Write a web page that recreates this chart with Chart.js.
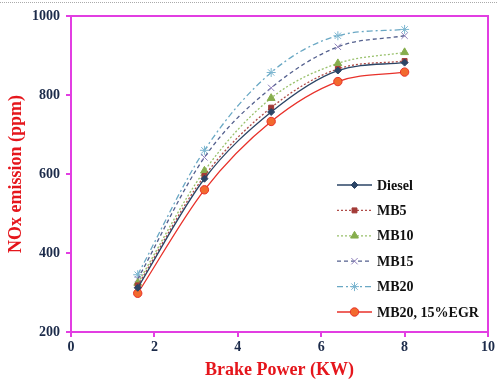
<!DOCTYPE html>
<html>
<head>
<meta charset="utf-8">
<script src="https://cdn.jsdelivr.net/npm/chart.js@4/dist/chart.umd.min.js"></script>
<style>
  html, body { margin: 0; padding: 0; background: #fff; }
  #wrap { position: relative; width: 497px; height: 381px; }
  #dots { position: absolute; left: 0; top: 2px; width: 497px; border-top: 1px dotted #aaa; }
</style>
</head>
<body>
<div id="wrap">
  <div id="dots"></div>
  <canvas id="chart"></canvas>
</div>
<script>
// Brake power (KW) load points
const brakePower = [1.6, 3.2, 4.8, 6.4, 8.0];

// NOx emission (ppm) per fuel
const diesel = [312, 588, 757, 862, 882];
const mb5    = [318, 595, 768, 866, 886];
const mb10   = [324, 608, 792, 880, 908];
const mb15   = [334, 642, 818, 922, 950];
const mb20   = [345, 660, 857, 950, 966];
const mb20Egr = [298, 560, 733, 834, 858];

const xTicks = [0, 2, 4, 6, 8, 10];
const yTicks = [200, 400, 600, 800, 1000];

const MAGENTA = '#e23ee2';
const SERIF = "'Liberation Serif', 'Times New Roman', serif";

const pts = (arr) => arr.map((v, i) => ({ x: brakePower[i], y: v }));

const series = [
  { label: 'Diesel', data: diesel, color: '#2b4566', dash: [], style: 'rectRot', fill: '#2b4566', radius: 3.5 },
  { label: 'MB5', data: mb5, color: '#b04c48', dash: [2, 2], style: 'rect', fill: '#a33b38', radius: 3.5 },
  { label: 'MB10', data: mb10, color: '#98c06a', dash: [2, 2], style: 'triangle', fill: '#86ad4c', radius: 4.5 },
  { label: 'MB15', data: mb15, color: '#54608e', dash: [4, 3], style: 'crossRot', fill: '#8f80bb', radius: 4.5 },
  { label: 'MB20', data: mb20, color: '#6aa8c4', dash: [6, 3, 2, 3], style: 'star', fill: '#7cb6d0', radius: 4.5 },
  { label: 'MB20, 15%EGR', data: mb20Egr, color: '#e8312a', dash: [], style: 'circle', fill: '#f26a2e', radius: 4.2 }
];

const frameAndLegend = {
  id: 'frameAndLegend',
  afterDatasetsDraw(chart) {
    const { ctx, chartArea: a } = chart;
    ctx.save();
    ctx.strokeStyle = MAGENTA;
    ctx.lineWidth = 2;
    ctx.beginPath();
    ctx.moveTo(a.left, a.top);
    ctx.lineTo(a.right, a.top);
    ctx.lineTo(a.right, a.bottom);
    ctx.stroke();

    // legend, bottom right inside the plot
    const n = chart.data.datasets.length;
    const x0 = a.right - 151;
    chart.data.datasets.forEach((ds, i) => {
      const y = a.bottom - 20 - (n - 1 - i) * 25.4;
      ctx.strokeStyle = ds.borderColor;
      ctx.lineWidth = ds.borderWidth;
      ctx.setLineDash(ds.borderDash || []);
      ctx.beginPath();
      ctx.moveTo(x0, y);
      ctx.lineTo(x0 + 35, y);
      ctx.stroke();
      ctx.setLineDash([]);
      ctx.fillStyle = ds.pointBackgroundColor;
      ctx.strokeStyle = ds.pointBorderColor;
      ctx.lineWidth = 1;
      Chart.helpers.drawPoint(ctx, { pointStyle: ds.pointStyle, radius: ds.pointRadius, borderWidth: 1, rotation: 0 }, x0 + 17.5, y);
      ctx.fillStyle = '#111';
      ctx.font = 'bold 14px ' + SERIF;
      ctx.textAlign = 'left';
      ctx.textBaseline = 'middle';
      ctx.fillText(ds.label, x0 + 40, y + 1);
    });
    ctx.restore();
  }
};

new Chart(document.getElementById('chart'), {
  type: 'line',
  data: {
    datasets: series.map(s => ({
      label: s.label,
      data: pts(s.data),
      borderColor: s.color,
      borderWidth: 1.3,
      borderDash: s.dash,
      tension: 0.4,
      cubicInterpolationMode: 'monotone',
      pointStyle: s.style,
      pointRadius: s.radius,
      pointBackgroundColor: s.fill,
      pointBorderColor: s.style === 'circle' ? '#e8312a' : s.fill,
      pointBorderWidth: 1,
      fill: false
    }))
  },
  options: {
    responsive: true,
    maintainAspectRatio: false,
    animation: false,
    layout: { padding: { top: 16, right: 6, left: 0, bottom: 0 } },
    plugins: { legend: { display: false }, tooltip: { enabled: false } },
    scales: {
      x: {
        type: 'linear',
        min: 0, max: 10,
        afterBuildTicks: (s) => { s.ticks = xTicks.map(v => ({ value: v })); },
        afterFit: (s) => { s.height = 49; },
        grid: { display: true, drawOnChartArea: false, drawTicks: true, tickLength: 5, color: MAGENTA, lineWidth: 2 },
        border: { display: true, color: MAGENTA, width: 2 },
        ticks: { color: '#1c2b4a', font: { family: SERIF, size: 14, weight: 'bold' }, padding: 2, callback: (v) => String(v) },
        title: { display: true, text: 'Brake Power (KW)', color: '#e5161c', font: { family: SERIF, size: 18, weight: 'bold' }, padding: { top: 3, bottom: 0 } }
      },
      y: {
        min: 200, max: 1000,
        afterBuildTicks: (s) => { s.ticks = yTicks.map(v => ({ value: v })); },
        afterFit: (s) => { s.width = 71; },
        grid: { display: true, drawOnChartArea: false, drawTicks: true, tickLength: 5, color: MAGENTA, lineWidth: 2 },
        border: { display: true, color: MAGENTA, width: 2 },
        ticks: { color: '#1c2b4a', font: { family: SERIF, size: 14, weight: 'bold' }, padding: 6, callback: (v) => String(v) },
        title: { display: true, text: 'NOx emission (ppm)', color: '#e5161c', font: { family: SERIF, size: 18, weight: 'bold' }, padding: { top: 6, bottom: 0 } }
      }
    }
  },
  plugins: [frameAndLegend]
});
</script>
</body>
</html>
